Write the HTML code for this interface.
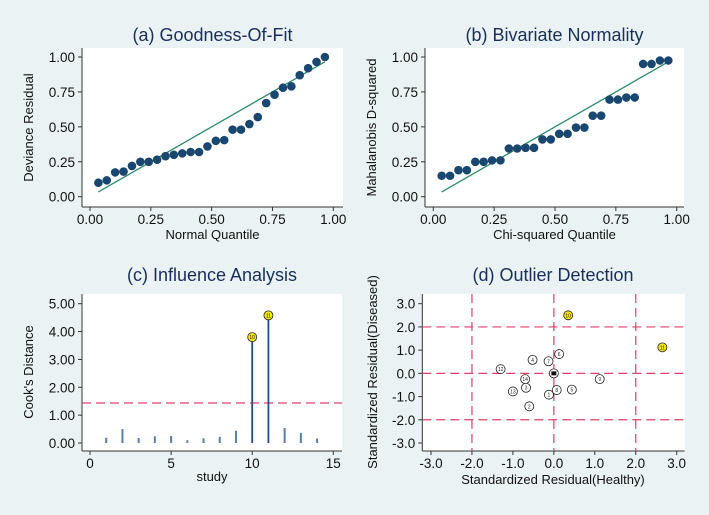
<!DOCTYPE html>
<html><head><meta charset="utf-8"><style>
body{margin:0;background:#eaf2f3;}
svg{display:block;font-family:"Liberation Sans",sans-serif;}
</style></head><body>
<svg id="s" width="709" height="515" xmlns="http://www.w3.org/2000/svg">
<rect width="709" height="515" fill="#eaf2f3"/>
</svg>
<script>
const aY=[0.10,0.117,0.174,0.18,0.22,0.25,0.25,0.265,0.29,0.30,0.31,0.32,0.32,0.36,0.40,0.405,0.48,0.48,0.52,0.57,0.67,0.73,0.78,0.79,0.87,0.92,0.965,1.00];
const bY=[0.15,0.15,0.19,0.19,0.25,0.25,0.26,0.26,0.345,0.345,0.35,0.35,0.41,0.41,0.45,0.45,0.495,0.495,0.58,0.58,0.695,0.695,0.71,0.71,0.95,0.95,0.975,0.975];
const quantTicks=["0.00","0.25","0.50","0.75","1.00"];
const cStudies=[1,2,3,4,5,6,7,8,9,10,11,12,13,14];
const cValues=[0.19,0.5,0.18,0.24,0.25,0.1,0.17,0.22,0.44,3.80,4.58,0.54,0.36,0.16];
const cThreshold=1.435;
const cYTicks=["0.00","1.00","2.00","3.00","4.00","5.00"];
const cXTicks=[0,5,10,15];
const dLabels=["10","11","6","4","7","12","","14","9","3","13","8","5","1","2"];
const dX=[0.35,2.65,0.13,-0.52,-0.13,-1.3,0,-0.7,1.12,-0.68,-1.0,0.07,0.44,-0.12,-0.6];
const dY=[2.5,1.12,0.83,0.58,0.52,0.18,0,-0.25,-0.25,-0.62,-0.78,-0.72,-0.7,-0.92,-1.42];
const dTicks=["-3.0","-2.0","-1.0","0.0","1.0","2.0","3.0"];

const S=document.getElementById('s');const NS="http://www.w3.org/2000/svg";
function el(t,a,txt){const e=document.createElementNS(NS,t);for(const k in a)e.setAttribute(k,a[k]);if(txt!==undefined)e.textContent=txt;S.appendChild(e);return e;}
const navy="#1a2e5c",pt="#1a476f",ln="#2b8a6e",red="#e0406a";
function frame(x0,y0,x1,y1,name){
 const r=el('rect',{x:x0,y:y0,width:x1-x0,height:y1-y0,fill:"#fff"});
 
 el('line',{x1:x0,y1:y0,x2:x0,y2:y1,stroke:"#333","stroke-width":1});
 el('line',{x1:x0,y1:y1,x2:x1,y2:y1,stroke:"#333","stroke-width":1});
}
function title(x,y,t,name){const e=el('text',{x:x,y:y,"font-size":18,fill:navy,"text-anchor":"middle"},t);}
function ytick(x0,y,t){el('line',{x1:x0-4,y1:y,x2:x0,y2:y,stroke:"#333"});const e=el('text',{x:x0-7,y:y+5,"font-size":13.5,fill:"#111","text-anchor":"end"},t);}
function xtick(x,y1,t){el('line',{x1:x,y1:y1,x2:x,y2:y1+4,stroke:"#333"});const e=el('text',{x:x,y:y1+17,"font-size":13.5,fill:"#111","text-anchor":"middle"},t);}
function xt(x,y,t){const e=el('text',{x:x,y:y,"font-size":13,fill:"#111","text-anchor":"middle"},t);}
function yt(x,y,t){const e=el('text',{x:0,y:0,"font-size":13,fill:"#111","text-anchor":"middle",transform:`translate(${x},${y}) rotate(-90)`},t);}

function qq(ox,x0,x1,xa0,xa1,ys,ttl,xl,yl,nm){
 const y0=48,y1=207,ya0=196.7,ya1=57;
 const X=v=>xa0+(xa1-xa0)*v,Y=v=>ya0+(ya1-ya0)*v;
 frame(x0,y0,x1,y1,nm);
 title((x0+x1)/2,41,ttl,nm+'-title');
 quantTicks.forEach(t=>{ytick(x0,Y(+t),t);xtick(X(+t),y1,t);});
 const n=ys.length;
 el('line',{x1:X(1/(n+1)),y1:Y(1/(n+1)),x2:X(n/(n+1)),y2:Y(n/(n+1)),stroke:ln,"stroke-width":1.3});
 ys.forEach((v,i)=>{const c=el('circle',{cx:X((i+1)/(n+1)),cy:Y(v),r:4.3,fill:pt});});
 xt((x0+x1)/2,239,xl);yt(ox,(y0+y1)/2,yl);
}
qq(33,82,343,90,333.3,aY,"(a) Goodness-Of-Fit","Normal Quantile","Deviance Residual","goodness-of-fit");
qq(376,425,684,433.3,676.7,bY,"(b) Bivariate Normality","Chi-squared Quantile","Mahalanobis D-squared","bivariate-normality");

(function(){
 const x0=82,x1=342,y0=294,y1=451;
 const X=v=>90+(333.3-90)*v/15,Y=v=>443-(443-303.7)*v/5;
 frame(x0,y0,x1,y1,'influence');
 title(212,281,"(c) Influence Analysis",'influence-title');
 cYTicks.forEach(t=>ytick(x0,Y(+t),t));
 cXTicks.forEach(t=>xtick(X(t),y1,String(t)));
 const th=el('line',{x1:x0,y1:Y(cThreshold),x2:x1,y2:Y(cThreshold),stroke:red,"stroke-width":1.2,"stroke-dasharray":"9,5"});
 
 cStudies.forEach((s,i)=>{const v=cValues[i],big=v>cThreshold;
  const b=el('line',{x1:X(s),y1:Y(0),x2:X(s),y2:Y(v),stroke:big?"#1f4e8c":"#5a7fa8","stroke-width":big?1.8:2});
  
  if(big){el('circle',{cx:X(s),cy:Y(v),r:4.5,fill:"#f5e600",stroke:"#222","stroke-width":0.8});el('text',{x:X(s),y:Y(v)+2,"font-size":5,"text-anchor":"middle",fill:"#222"},String(s));}
 });
 xt(212,481,"study");yt(33,372,"Cook's Distance");
})();

(function(){
 const x0=422.3,x1=684.7,y0=294,y1=451;
 const X=v=>431+(676.7-431)*(v+3)/6,Y=v=>443-(443-303.7)*(v+3)/6;
 frame(x0,y0,x1,y1,'outlier');
 title(553,281,"(d) Outlier Detection",'outlier-title');
 dTicks.forEach(t=>{ytick(x0,Y(+t),t);xtick(X(+t),y1,t);});
 [-2,0,2].forEach(g=>{
  const a=el('line',{x1:x0,y1:Y(g),x2:x1,y2:Y(g),stroke:red,"stroke-width":1.2,"stroke-dasharray":"9,5"});
  const b=el('line',{x1:X(g),y1:y0,x2:X(g),y2:y1,stroke:red,"stroke-width":1.2,"stroke-dasharray":"9,5"});
 });
 dX.forEach((x,i)=>{const y=dY[i],out=Math.abs(x)>2||Math.abs(y)>2;
  const c=el('circle',{cx:X(x),cy:Y(y),r:4.5,fill:out?"#f5e600":"#fff",stroke:"#222","stroke-width":0.8});
  
  if(dLabels[i]==="")el('rect',{x:X(x)-2.5,y:Y(y)-2,width:5,height:4,fill:"#111"});
  el('text',{x:X(x),y:Y(y)+2,"font-size":5,"text-anchor":"middle",fill:"#222"},dLabels[i]);
 });
 xt(553,484,"Standardized Residual(Healthy)");yt(377,372,"Standardized Residual(Diseased)");
})();
</script>
</body></html>
